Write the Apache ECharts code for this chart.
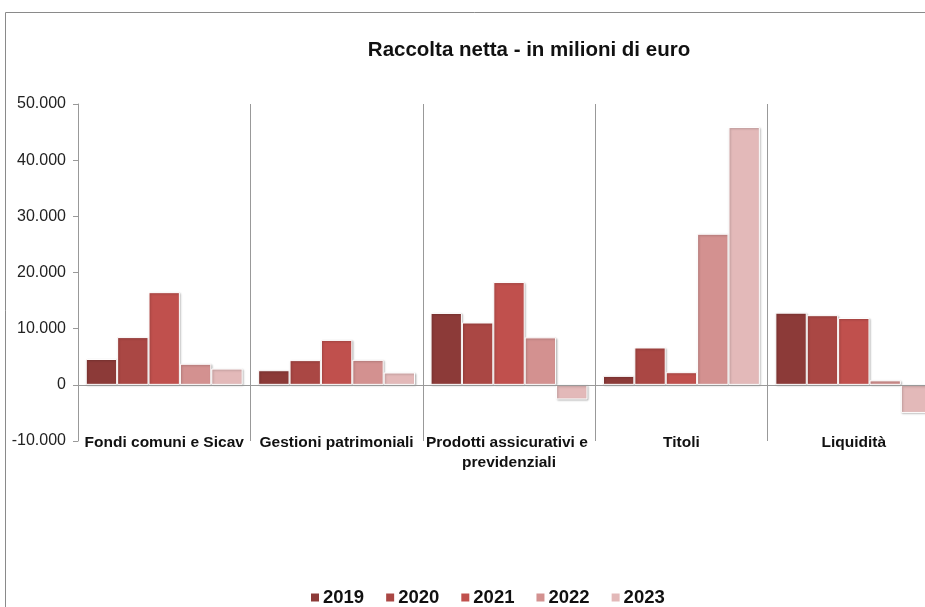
<!DOCTYPE html>
<html>
<head>
<meta charset="utf-8">
<script src="https://cdn.jsdelivr.net/npm/echarts@6/dist/echarts.min.js"></script>
<style>
html,body{margin:0;padding:0;overflow:hidden;background:#fff;}
#chart{width:942px;height:607px;}
</style>
</head>
<body>
<div id="chart"></div>
<script>
const categories = ['Fondi comuni e Sicav', 'Gestioni patrimoniali', 'Prodotti assicurativi e previdenziali', 'Titoli', 'Liquidità'];
const years = ['2019', '2020', '2021', '2022', '2023'];
const v2019 = [4600, 2600, 12800, 1600, 12850];
const v2020 = [8500, 4400, 11100, 6650, 12400];
const v2021 = [16500, 8000, 18300, 2250, 11900];
const v2022 = [3750, 4450, 8450, 26900, 800];
const v2023 = [2900, 2200, -2600, 45900, -5000];
const yTicks = [-10000, 0, 10000, 20000, 30000, 40000, 50000];
const seriesValues = [v2019, v2020, v2021, v2022, v2023];
const colors = ['#8c3a38', '#aa4744', '#c0504d', '#d39190', '#e3b9b9'];

function fmt(v) {
  const s = Math.abs(v).toString().replace(/\B(?=(\d{3})+(?!\d))/g, '.');
  return (v < 0 ? '-' : '') + s;
}

const chart = echarts.init(document.getElementById('chart'));
const series = years.map((y, i) => ({
  name: y,
  type: 'bar',
  data: seriesValues[i],
  barGap: '0%',
  barCategoryGap: '9%',
  itemStyle: {
    color: colors[i],
    borderColor: '#ffffff',
    borderWidth: 1,
    shadowColor: 'rgba(0,0,0,0.25)',
    shadowBlur: 2,
    shadowOffsetX: 1,
    shadowOffsetY: 1
  },
  markLine: i === 0 ? {
    silent: true,
    symbol: 'none',
    label: {show: false},
    lineStyle: {color: '#999', width: 1, type: 'solid'},
    data: [{yAxis: 0}]
  } : undefined
}));

chart.setOption({
  animation: false,
  graphic: [{
    type: 'rect',
    shape: {x: 5.5, y: 12.5, width: 1100, height: 800},
    style: {fill: 'none', stroke: '#8a8a8a', lineWidth: 1},
    z: -10
  }],
  title: {
    text: 'Raccolta netta - in milioni di euro',
    left: 524,
    textAlign: 'center',
    top: 35,
    textStyle: {fontFamily: 'Liberation Sans', fontWeight: 'bold', fontSize: 20.5, color: '#111'}
  },
  legend: {
    data: years,
    left: 304,
    top: 583,
    itemWidth: 10,
    itemHeight: 10,
    itemGap: 20,
    icon: 'rect',
    textStyle: {fontFamily: 'Liberation Sans', fontWeight: 'bold', fontSize: 18.5, color: '#111', padding: [0, 0, 0, -2]}
  },
  grid: {left: 78, right: 2, top: 104, bottom: 166},
  xAxis: {
    type: 'category',
    data: categories,
    axisLine: {show: false, onZero: false},
    axisTick: {show: false},
    splitLine: {show: true, lineStyle: {color: '#999', width: 1}},
    axisLabel: {
      interval: 0,
      margin: -8,
      width: 170,
      overflow: 'break',
      fontFamily: 'Liberation Sans',
      fontWeight: 'bold',
      fontSize: 15.5,
      lineHeight: 20,
      color: '#111'
    }
  },
  yAxis: {
    type: 'value',
    min: yTicks[0],
    max: yTicks[yTicks.length - 1],
    interval: 10000,
    axisLine: {show: true, onZero: false, lineStyle: {color: '#999'}},
    axisTick: {show: true, length: 5, lineStyle: {color: '#999'}},
    splitLine: {show: false},
    axisLabel: {
      formatter: fmt,
      margin: 12,
      fontFamily: 'Liberation Sans',
      fontSize: 16,
      color: '#222'
    }
  },
  series: series
});
</script>
</body>
</html>
